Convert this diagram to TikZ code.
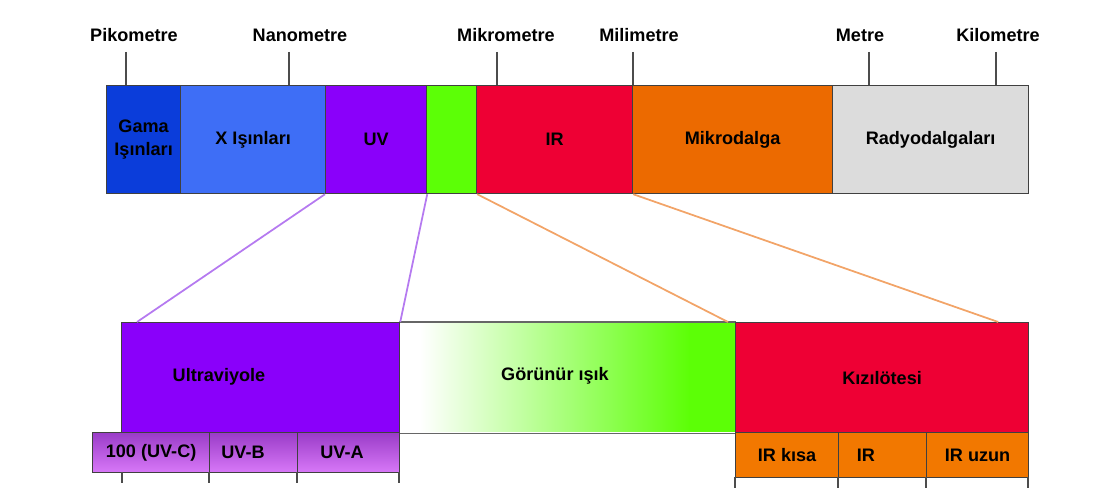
\documentclass[tikz,border=0pt]{standalone}
\usepackage{fontspec}
\setmainfont{Liberation Sans}
\usetikzlibrary{positioning,calc}
\definecolor{gamablue}{HTML}{0B3DDA}
\definecolor{xblue}{HTML}{3E6EF6}
\definecolor{uvpurple}{HTML}{8A00FA}
\definecolor{visgreen}{HTML}{5CFF06}
\definecolor{irred}{HTML}{EE0034}
\definecolor{microorange}{HTML}{EC6A00}
\definecolor{radiogray}{HTML}{DCDCDC}
\definecolor{subpurple}{HTML}{9A3CC8}
\definecolor{sublilac}{HTML}{D878F8}
\definecolor{suborange}{HTML}{F27800}
\definecolor{uvline}{HTML}{B57AF0}
\definecolor{irline}{HTML}{F2A468}

\begin{document}
\begin{tikzpicture}[x=0.02cm,y=-0.02cm,
  bandbox/.style 2 args={draw=black!75,line width=0.7pt,anchor=north west,inner sep=0pt,
    minimum width=#1*0.02cm,minimum height=#2*0.02cm,align=center,
    font=\fontsize{10.3}{13}\selectfont\bfseries},
  bandtext/.style={font=\fontsize{10.3}{13}\selectfont\bfseries,inner sep=0pt},
  unitname/.style={font=\fontsize{10.3}{13}\selectfont\bfseries,inner sep=0pt},
  tick/.style={draw=black!70,line width=0.7pt},
  zoomline/.style={line width=1pt}]
  \useasboundingbox (0,0) rectangle (1103,502);

  % Wavelength units
  \foreach \lbl/\lx/\tx in {Pikometre/134/126, Nanometre/300/289, Mikrometre/506/497,
                            Milimetre/639/633, Metre/860/869, Kilometre/998/996}{
    \node[unitname] (unit\lbl) at (\lx,35) {\lbl};
    \draw[tick] (\tx,52) -- (\tx,85);
  }

  % Full spectrum
  \node[bandbox={74}{108},fill=gamablue] (gama) at (106,85) {Gama\\Işınları};
  \node[bandbox={145}{108},fill=xblue] (xray) at (180,85) {X Işınları};
  \node[bandbox={101}{108},fill=uvpurple] (uv) at (325,85) {UV};
  \node[bandbox={50}{108},fill=visgreen] (vis) at (426,85) {};
  \node[bandbox={156}{108},fill=irred] (ir) at (476,85) {IR};
  \node[bandbox={200}{108},fill=microorange] (micro) at (632,85) {Mikrodalga};
  \node[bandbox={196}{108},fill=radiogray] (radio) at (832,85) {Radyodalgaları};

  % Zoomed part
  \shade[left color=white,middle color=visgreen!28,right color=visgreen] (420,322) rectangle (690,432);
  \fill[visgreen] (689,322) rectangle (735,432);
  \node[bandbox={336}{110},draw=none] (visible) at (399,322) {};
  \node[bandtext] (visibletext) at (555,376) {Görünür ışık};
  \draw[draw=black!60,line width=0.7pt] (visible.north west) -- (visible.north east)
    (visible.south west) -- (visible.south east);
  \node[bandbox={278}{110},fill=uvpurple] (ultra) at (121,322) {};
  \node[bandtext] (ultratext) at (219,377) {Ultraviyole};
  \node[bandbox={293}{110},fill=irred] (kizil) at (735,322) {Kızılötesi};

  % UV sub-bands
  \node[bandbox={117}{40},top color=subpurple,bottom color=sublilac] (uvc) at (92,432) {100 (UV-C)};
  \node[bandbox={88}{40},top color=subpurple,bottom color=sublilac] (uvb) at (209,432) {};
  \node[bandtext] (uvbtext) at (243,452) {UV-B};
  \node[bandbox={102}{40},top color=subpurple,bottom color=sublilac] (uva) at (297,432) {};
  \node[bandtext] (uvatext) at (342,452) {UV-A};
  \foreach \tx in {122,209,297,399}{
    \draw[tick] (\tx,472) -- (\tx,483);
  }

  % IR sub-bands
  \node[bandbox={103}{45},fill=suborange] (irkisa) at (735,432) {IR kısa};
  \node[bandbox={88}{45},fill=suborange] (irmid) at (838,432) {};
  \node[bandtext] (irmidtext) at (866,455) {IR};
  \node[bandbox={102}{45},fill=suborange] (iruzun) at (926,432) {IR uzun};
  \foreach \tx in {735,838,926,1028}{
    \draw[tick] (\tx,477) -- (\tx,488);
  }

  % Zoom lines
  \draw[zoomline,uvline] (uv.south west) -- ($(ultra.north west)+(16,0)$);
  \draw[zoomline,uvline] (uv.south east) -- (ultra.north east);
  \draw[zoomline,irline] (vis.south east) -- ($(kizil.north west)+(-7,0)$);
  \draw[zoomline,irline] (ir.south east) -- ($(kizil.north east)+(-31,0)$);
\end{tikzpicture}
\end{document}
